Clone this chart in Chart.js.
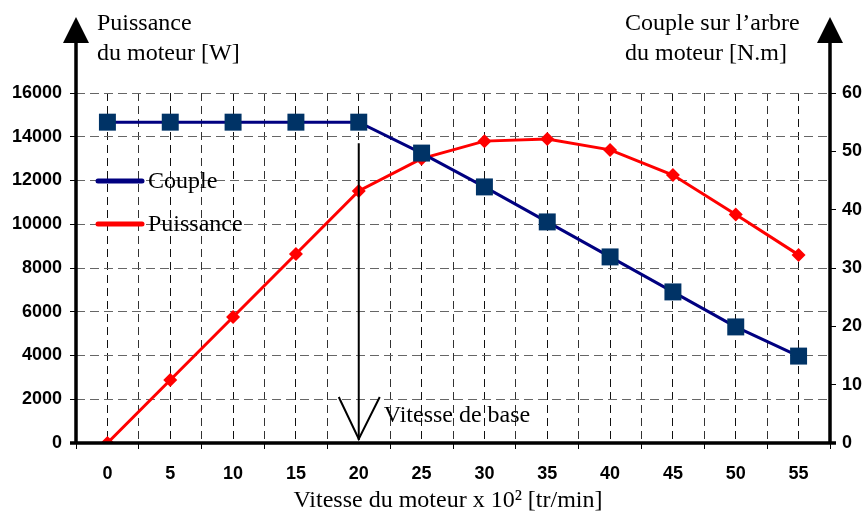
<!DOCTYPE html>
<html>
<head>
<meta charset="utf-8">
<script src="https://cdn.jsdelivr.net/npm/chart.js@4"></script>
<style>
  html, body { margin: 0; padding: 0; background: #fff; }
  #wrap { width: 867px; height: 514px; }
</style>
</head>
<body>
<div id="wrap"><canvas id="chart" width="867" height="514"></canvas></div>
<script>
// vitesse x 100 tr/min
const speeds = [0, 5, 10, 15, 20, 25, 30, 35, 40, 45, 50, 55];
// couple sur l'arbre [N.m] (axe droit)
const couple = [55, 55, 55, 55, 55, 49.7, 43.9, 37.9, 31.9, 25.9, 19.9, 14.9];
// puissance du moteur [W] (axe gauche)
const puissance = [0, 2880, 5760, 8640, 11520, 13000, 13800, 13900, 13400, 12250, 10450, 8600];
const leftTicks = [0, 2000, 4000, 6000, 8000, 10000, 12000, 14000, 16000];
const rightTicks = [0, 10, 20, 30, 40, 50, 60];
const baseSpeed = 20;

const serif = '"Liberation Serif", "Times New Roman", serif';
const sans = '"Liberation Sans", Arial, sans-serif';

const isCenter = (v) => Math.abs(v % 5) < 0.01;

const decor = {
  id: 'decor',
  afterDatasetsDraw(chart) {
    const { ctx, chartArea: a, scales } = chart;
    const x = scales.x, y = scales.y;
    ctx.save();
    ctx.strokeStyle = '#000';
    ctx.fillStyle = '#000';
    ctx.setLineDash([]);

    // axes with arrows
    ctx.lineWidth = 3.5;
    ctx.beginPath();
    ctx.moveTo(a.left, a.bottom);
    ctx.lineTo(a.left, 40);
    ctx.moveTo(a.right, a.bottom);
    ctx.lineTo(a.right, 40);
    ctx.moveTo(a.left - 6, a.bottom);
    ctx.lineTo(a.right + 6, a.bottom);
    ctx.stroke();
    [a.left, a.right].forEach(px => {
      ctx.beginPath();
      ctx.moveTo(px, 17);
      ctx.lineTo(px - 13, 43);
      ctx.lineTo(px + 13, 43);
      ctx.closePath();
      ctx.fill();
    });

    // vitesse de base
    const bx = x.getPixelForValue(baseSpeed);
    ctx.lineWidth = 2;
    ctx.beginPath();
    ctx.moveTo(bx, y.getPixelForValue(13700));
    ctx.lineTo(bx, a.bottom - 3);
    ctx.stroke();
    ctx.beginPath();
    ctx.moveTo(bx - 20, a.bottom - 46);
    ctx.lineTo(bx, a.bottom - 4);
    ctx.lineTo(bx + 21, a.bottom - 46);
    ctx.stroke();
    ctx.font = '24px ' + serif;
    ctx.textAlign = 'left';
    ctx.textBaseline = 'alphabetic';
    ctx.fillText('Vitesse de base', bx + 25, a.bottom - 21);

    // titres des axes
    ctx.fillText('Puissance', 97, 30);
    ctx.fillText('du moteur [W]', 97, 60);
    ctx.fillText('Couple sur l\u2019arbre', 625, 30);
    ctx.fillText('du moteur [N.m]', 625, 60);
    ctx.textAlign = 'center';
    ctx.fillText('Vitesse du moteur x 10\u00B2 [tr/min]', 448, 507);

    // legende
    const items = chart.data.datasets.map(d => ({ label: d.label, color: d.borderColor }));
    items.forEach((it, i) => {
      const ly = 181 + i * 43;
      ctx.strokeStyle = it.color;
      ctx.lineWidth = 5;
      ctx.lineCap = 'round';
      ctx.beginPath();
      ctx.moveTo(98, ly);
      ctx.lineTo(142, ly);
      ctx.stroke();
      ctx.fillStyle = '#000';
      ctx.textAlign = 'left';
      ctx.fillText(it.label, 148, ly + 7);
    });
    ctx.restore();
  }
};

new Chart(document.getElementById('chart'), {
  type: 'line',
  data: {
    datasets: [
      {
        label: 'Couple',
        data: speeds.map((s, i) => ({ x: s, y: couple[i] })),
        yAxisID: 'y1',
        borderColor: '#000080',
        backgroundColor: '#003366',
        borderWidth: 3,
        pointStyle: 'rect',
        pointRadius: 12,
        pointBorderWidth: 0,
        pointBackgroundColor: '#003366',
        tension: 0,
        order: 1
      },
      {
        label: 'Puissance',
        data: speeds.map((s, i) => ({ x: s, y: puissance[i] })),
        yAxisID: 'y',
        borderColor: '#ff0000',
        backgroundColor: '#ff0000',
        borderWidth: 3,
        pointStyle: 'rectRot',
        pointRadius: 7,
        pointBorderWidth: 0,
        pointBackgroundColor: '#ff0000',
        tension: 0,
        order: 2
      }
    ]
  },
  options: {
    responsive: false,
    animation: false,
    layout: { padding: { top: 93, left: 0, right: 0, bottom: 0 } },
    plugins: { legend: { display: false }, tooltip: { enabled: false } },
    scales: {
      x: {
        type: 'linear',
        min: speeds[0] - 2.5,
        max: speeds[speeds.length - 1] + 2.5,
        afterFit: (s) => { s.height = 71; },
        afterBuildTicks: (s) => {
          s.ticks = [];
          for (let v = s.min; v <= s.max + 0.01; v += 2.5) s.ticks.push({ value: v });
        },
        ticks: {
          autoSkip: false,
          maxRotation: 0,
          padding: 14,
          color: '#000',
          font: { family: sans, size: 18, weight: 'bold' },
          callback: (v) => (isCenter(v) && speeds.includes(v) ? String(v) : '')
        },
        grid: {
          color: (c) => (c.tick && isCenter(c.tick.value) ? '#111' : '#333'),
          lineWidth: 1,
          tickLength: 6,
          tickColor: (c) => (c.tick && isCenter(c.tick.value) ? 'rgba(0,0,0,0)' : '#000')
        },
        border: { display: false, dash: [8, 5] }
      },
      y: {
        position: 'left',
        min: 0,
        max: 16000,
        afterFit: (s) => { s.width = 76; },
        afterBuildTicks: (s) => { s.ticks = leftTicks.map(v => ({ value: v })); },
        ticks: {
          padding: 8,
          color: '#000',
          font: { family: sans, size: 18, weight: 'bold' },
          callback: (v) => String(v)
        },
        grid: { color: '#666', lineWidth: 1, tickLength: 6, tickColor: '#000' },
        border: { display: false, dash: [9, 5] }
      },
      y1: {
        position: 'right',
        min: 0,
        max: 60,
        afterFit: (s) => { s.width = 37; },
        afterBuildTicks: (s) => { s.ticks = rightTicks.map(v => ({ value: v })); },
        ticks: {
          padding: 6,
          color: '#000',
          font: { family: sans, size: 18, weight: 'bold' },
          callback: (v) => String(v)
        },
        grid: { drawOnChartArea: false, tickLength: 6, tickColor: '#000', lineWidth: 1 },
        border: { display: false }
      }
    }
  },
  plugins: [decor]
});
</script>
</body>
</html>
